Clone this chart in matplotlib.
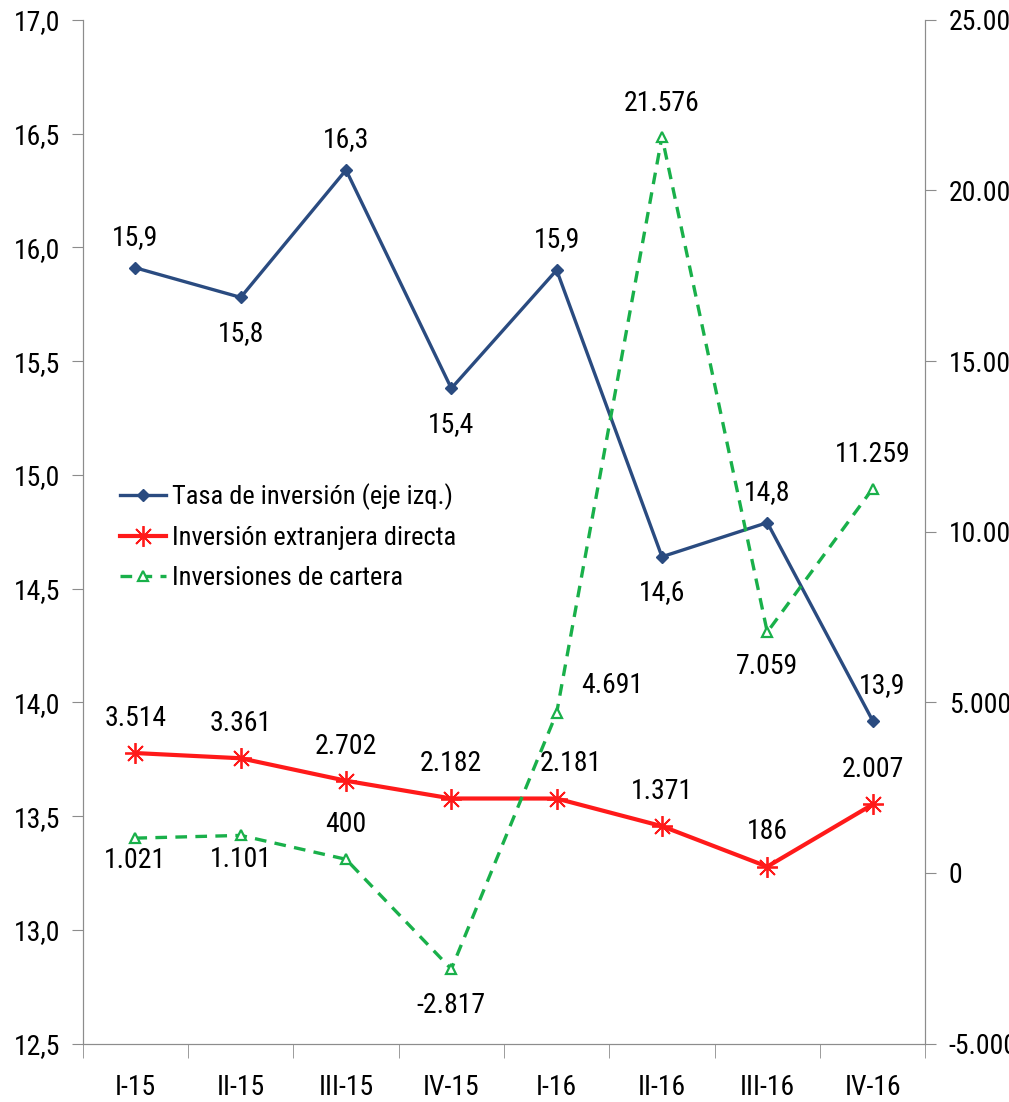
import matplotlib.pyplot as plt
from matplotlib.ticker import FuncFormatter, MultipleLocator
from matplotlib import font_manager

trimestres = ["I-15", "II-15", "III-15", "IV-15", "I-16", "II-16", "III-16", "IV-16"]
tasa_inversion = [15.91, 15.78, 16.34, 15.38, 15.90, 14.64, 14.79, 13.92]
ied = [3514, 3361, 2702, 2182, 2181, 1371, 186, 2007]
cartera = [1021, 1101, 400, -2817, 4691, 21576, 7059, 11259]

# desplazamiento de etiquetas (puntos): arriba (+) o abajo (-)
off_tasa = [(0, 22), (0, -26), (0, 22), (0, -26), (0, 22), (0, -26), (0, 22), (7, 25)]
off_ied = [(0, 25), (0, 25), (0, 25), (0, 25), (10, 25), (0, 25), (0, 25), (0, 25)]
off_cartera = [(0, -16), (0, -17), (0, 25), (0, -26), (40, 20), (0, 24), (0, -25), (0, 25)]

# fuente estrecha si existe alguna
nombres = {f.name for f in font_manager.fontManager.ttflist}
estrechas = ["Roboto Condensed", "Open Sans Condensed", "Liberation Sans Narrow",
             "Ubuntu Condensed", "Arial Narrow"]
elegida = next((n for n in estrechas if n in nombres), None)
if elegida:
    plt.rcParams["font.family"] = elegida
    TAM = 20
else:
    plt.rcParams["font.family"] = "DejaVu Sans"
    plt.rcParams["font.stretch"] = "condensed"
    TAM = 18.5
plt.rcParams["font.size"] = TAM

AZUL = "#2a4b80"
ROJO = "#ff1a1a"
VERDE = "#19b04a"
GRIS = "#8c8c8c"


def miles(v, pos=None):
    return f"{v:,.0f}".replace(",", ".")


def coma(v, pos=None):
    return f"{v:.1f}".replace(".", ",")


fig, ax = plt.subplots(figsize=(10.09, 11.02), dpi=100)
fig.subplots_adjust(left=0.082, right=0.917, top=0.982, bottom=0.053)
ax2 = ax.twinx()

x = list(range(len(trimestres)))

l1, = ax.plot(x, tasa_inversion, color=AZUL, lw=2.4, marker="D", ms=6.5,
              label="Tasa de inversión (eje izq.)")
l2, = ax2.plot(x, ied, color=ROJO, lw=3, marker=(8, 2, 0), ms=15, mew=1.3,
               label="Inversión extranjera directa")
l3, = ax2.plot(x, cartera, color=VERDE, lw=2.4, ls=(0, (3.5, 2.5)), marker="^",
               ms=7.5, mfc="white", mec=VERDE, mew=1.6,
               label="Inversiones de cartera")

for xi, v, off in zip(x, tasa_inversion, off_tasa):
    ax.annotate(coma(v), (xi, v), xytext=off, textcoords="offset points",
                ha="center", va="center")
for xi, v, off in zip(x, ied, off_ied):
    ax2.annotate(miles(v), (xi, v), xytext=off, textcoords="offset points",
                 ha="center", va="center")
for xi, v, off in zip(x, cartera, off_cartera):
    ax2.annotate(miles(v), (xi, v), xytext=off, textcoords="offset points",
                 ha="center", va="center")

ax.set_xlim(-0.5, len(trimestres) - 0.5)
ax.set_ylim(12.5, 17.0)
ax.yaxis.set_major_locator(MultipleLocator(0.5))
ax.yaxis.set_major_formatter(FuncFormatter(coma))
ax2.set_ylim(-5000, 25000)
ax2.yaxis.set_major_locator(MultipleLocator(5000))
ax2.yaxis.set_major_formatter(FuncFormatter(miles))

# categorías centradas, marcas de eje entre trimestres
ax.set_xticks(x)
ax.set_xticklabels(trimestres)
ax.set_xticks([i - 0.5 for i in range(len(trimestres) + 1)], minor=True)
ax.tick_params(axis="x", which="major", length=0, pad=22)
ax.tick_params(axis="x", which="minor", length=10, color=GRIS)
ax.tick_params(axis="y", length=8, color=GRIS, pad=8)
ax2.tick_params(axis="y", length=8, color=GRIS, pad=9)

for a in (ax, ax2):
    a.spines["top"].set_visible(False)
    for s in ("left", "right", "bottom"):
        a.spines[s].set_color(GRIS)

ax.legend(handles=[l1, l2, l3], loc="upper left", bbox_to_anchor=(0.032, 0.558),
          frameon=False, handlelength=1.75, handletextpad=0.2, labelspacing=0.62,
          borderaxespad=0, fontsize=TAM - 1)

fig.savefig("out.png", dpi=100, facecolor="white")
